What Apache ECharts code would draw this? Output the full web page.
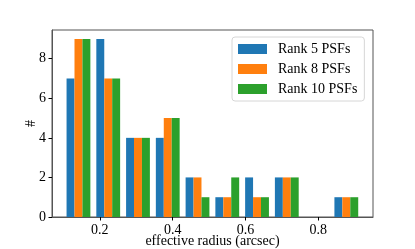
<!DOCTYPE html>
<html><head><meta charset="utf-8">
<script src="https://cdn.jsdelivr.net/npm/echarts@6/dist/echarts.min.js"></script>
<style>html,body{margin:0;padding:0;background:#fff}#c{width:415px;height:249px}</style>
</head><body><div id="c"></div>
<script>
// histogram bin edges (arcsec)
var binEdges = [0.1006, 0.1823, 0.2640, 0.3457, 0.4274, 0.5091, 0.5908, 0.6725, 0.7542, 0.8359, 0.9176];
var seriesNames = ['Rank 5 PSFs', 'Rank 8 PSFs', 'Rank 10 PSFs'];
var rank5 = [7, 9, 4, 4, 2, 1, 2, 2, 0, 1];
var rank8 = [9, 7, 4, 5, 2, 1, 1, 2, 0, 1];
var rank10 = [9, 7, 4, 5, 1, 2, 1, 2, 0, 1];
var xTicks = [0.2, 0.4, 0.6, 0.8];
var yTicks = [0, 2, 4, 6, 8];
var colors = ['#1f77b4', '#ff7f0e', '#2ca02c'];
var font = 'Liberation Serif';

function makeSeries(name, values, k) {
  return {
    name: name, type: 'custom',
    itemStyle: {color: colors[k]},
    data: values.map(function (v, i) { return [i, v]; }),
    renderItem: function (params, api) {
      var i = api.value(0), v = api.value(1);
      var w = binEdges[i + 1] - binEdges[i];
      var bw = 0.8 * w / 3;
      var x0 = binEdges[i] + 0.1 * w + k * bw;
      var p0 = api.coord([x0, v]);
      var p1 = api.coord([x0 + bw, 0]);
      return {type: 'rect', shape: {x: p0[0], y: p0[1], width: p1[0] - p0[0], height: p1[1] - p0[1]},
        style: {fill: colors[k]}};
    }
  };
}

var chart = echarts.init(document.getElementById('c'), null, {renderer: 'canvas'});
chart.setOption({
  animation: false,
  grid: {left: 52, right: 42, top: 30, bottom: 32, containLabel: false, outerBoundsMode: 'none',
    show: true, borderColor: '#555', borderWidth: 1},
  legend: {
    orient: 'vertical', left: 232, top: 37, itemWidth: 29, itemHeight: 10, itemGap: 6,
    padding: [5, 7, 5, 6], borderColor: '#d6d6d6', borderWidth: 1, borderRadius: 3, backgroundColor: '#fff',
    icon: 'rect', data: seriesNames,
    textStyle: {fontFamily: font, fontSize: 14, color: '#000', lineHeight: 14, padding: [0, 0, 0, 6]}
  },
  xAxis: {
    type: 'value', min: 0.0688, max: 0.950,
    name: 'effective radius (arcsec)', nameLocation: 'middle', nameGap: 17, nameMoveOverlap: false,
    nameTextStyle: {fontFamily: font, fontSize: 14, color: '#000'},
    axisLine: {show: true, onZero: false, lineStyle: {color: '#555'}},
    axisTick: {show: true, length: 3.5, customValues: xTicks, lineStyle: {color: '#000'}},
    axisLabel: {customValues: xTicks, fontFamily: font, fontSize: 14, color: '#000', margin: 6,
      formatter: function (v) { return v.toFixed(1); }},
    splitLine: {show: false}
  },
  yAxis: {
    type: 'value', min: 0, max: 9.45,
    name: '#', nameLocation: 'middle', nameGap: 14, nameRotate: 90, nameMoveOverlap: false,
    nameTextStyle: {fontFamily: font, fontSize: 14, color: '#000'},
    axisLine: {show: true, lineStyle: {color: '#555'}},
    axisTick: {show: true, length: 3.5, customValues: yTicks, lineStyle: {color: '#000'}},
    axisLabel: {customValues: yTicks, fontFamily: font, fontSize: 14, color: '#000', margin: 6},
    splitLine: {show: false}
  },
  series: [makeSeries(seriesNames[0], rank5, 0), makeSeries(seriesNames[1], rank8, 1), makeSeries(seriesNames[2], rank10, 2)]
});
</script></body></html>
